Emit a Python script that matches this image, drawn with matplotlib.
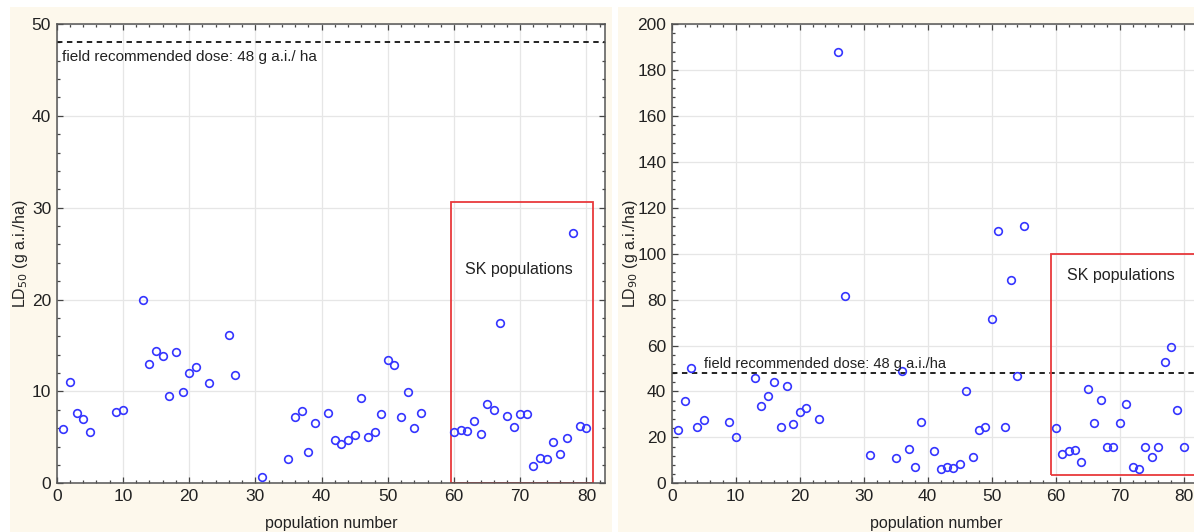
import matplotlib
matplotlib.use("Agg")
import matplotlib.pyplot as plt
from matplotlib.patches import Rectangle
from matplotlib.ticker import MultipleLocator

plt.rcParams['font.family'] = ['Liberation Sans', 'DejaVu Sans']

# LD50 data
ld50_pop = [1, 2, 3, 4, 5, 9, 10, 13, 14, 15, 16, 17, 18, 19, 20, 21, 23, 26, 27,
            31, 35, 36, 37, 38, 39, 41, 42, 43, 44, 45, 46, 47, 48, 49, 50, 51, 52,
            53, 54, 55, 60, 61, 62, 63, 64, 65, 66, 67, 68, 69, 70, 71, 72, 73, 74,
            75, 76, 77, 78, 79, 80]
ld50_val = [5.9, 11.0, 7.6, 7.05, 5.6, 7.8, 8.0, 20.0, 13.0, 14.4, 13.9, 9.5, 14.3,
            9.95, 12.0, 12.7, 10.9, 16.1, 11.8, 0.7, 2.6, 7.2, 7.9, 3.4, 6.6, 7.7,
            4.75, 4.3, 4.75, 5.25, 9.3, 5.0, 5.6, 7.55, 13.45, 12.9, 7.25, 9.95, 6.0,
            7.7, 5.6, 5.85, 5.7, 6.8, 5.35, 8.65, 8.0, 17.4, 7.3, 6.15, 7.5, 7.5,
            1.85, 2.8, 2.6, 4.55, 3.2, 4.95, 27.3, 6.25, 6.0]

# LD90 data
ld90_pop = [1, 2, 3, 4, 5, 9, 10, 13, 14, 15, 16, 17, 18, 19, 20, 21, 23, 26, 27,
            31, 35, 36, 37, 38, 39, 41, 42, 43, 44, 45, 46, 47, 48, 49, 50, 51, 52,
            53, 54, 55, 60, 61, 62, 63, 64, 65, 66, 67, 68, 69, 70, 71, 72, 73, 74,
            75, 76, 77, 78, 79, 80]
ld90_val = [23.4, 36.0, 50.4, 24.7, 27.7, 26.6, 20.0, 45.7, 33.7, 38.2, 44.1, 24.5,
            42.2, 26.0, 31.1, 32.8, 28.2, 188.0, 81.6, 12.2, 11.0, 49.0, 14.9, 7.0,
            26.6, 13.9, 6.4, 7.3, 6.8, 8.6, 40.2, 11.5, 23.4, 24.4, 71.6, 110.0, 24.5,
            88.5, 46.7, 112.2, 24.1, 12.9, 13.9, 14.5, 9.4, 41.1, 26.3, 36.1, 15.7,
            15.7, 26.3, 34.5, 7.3, 6.2, 15.8, 11.6, 16.0, 52.8, 59.4, 31.9, 15.7]

field_dose = 48

W, H = 1194, 532
fig = plt.figure(figsize=(W / 100, H / 100), dpi=100)
fig.patch.set_facecolor('white')

cream = '#fdf8ec'
fig.patches.append(Rectangle((10 / W, 0), (611.7 - 10) / W, (H - 7) / H,
                             transform=fig.transFigure, facecolor=cream,
                             edgecolor='none', zorder=-10))
fig.patches.append(Rectangle((618 / W, 0), (W - 618) / W, (H - 7) / H,
                             transform=fig.transFigure, facecolor=cream,
                             edgecolor='none', zorder=-10))

bottom = (H - 483.3) / H
height = (483.3 - 24) / H
ax1 = fig.add_axes([56.7 / W, bottom, (605 - 56.7) / W, height])
ax2 = fig.add_axes([671.7 / W, bottom, 530 / W, height])

txtc = '#222222'
mcol = '#3535ff'


def style(ax, ymax, ymajor, yminor):
    ax.set_facecolor('white')
    ax.set_xlim(0, 82.8)
    ax.set_ylim(0, ymax)
    ax.xaxis.set_major_locator(MultipleLocator(10))
    ax.xaxis.set_minor_locator(MultipleLocator(2))
    ax.yaxis.set_major_locator(MultipleLocator(ymajor))
    ax.yaxis.set_minor_locator(MultipleLocator(yminor))
    ax.grid(True, which='major', color='#e6e6e6', linewidth=0.9, zorder=0)
    ax.set_axisbelow(True)
    ax.tick_params(which='both', direction='in', top=True, right=True,
                   colors='#444444', labelcolor=txtc, labelsize=12.5, width=0.9)
    ax.tick_params(which='major', length=4, pad=4)
    ax.tick_params(which='minor', length=2.5)
    for s in ax.spines.values():
        s.set_color('#555555')
        s.set_linewidth(1.1)
    ax.set_xlabel('population number', fontsize=11.5, color=txtc, labelpad=9)


# Left panel: LD50
style(ax1, 50, 10, 2)
ax1.plot(ld50_pop, ld50_val, linestyle='none', marker='o', markersize=5.5,
         markerfacecolor='none', markeredgecolor=mcol, markeredgewidth=1.2, zorder=3)
ax1.axhline(field_dose, color='#111111', linestyle=(0, (3, 2.5)), linewidth=1.3)
ax1.text(0.75, 46.4, 'field recommended dose: 48 g a.i./ ha', fontsize=11,
         color=txtc, ha='left', va='center')
ax1.add_patch(Rectangle((59.6, 0), 81 - 59.6, 30.6, facecolor='none',
                        edgecolor='#e8393c', linewidth=1.3, zorder=2))
ax1.text(61.6, 23.3, 'SK populations', fontsize=11.5, color=txtc,
         ha='left', va='center')
ax1.set_ylabel('LD$_{50}$ (g a.i./ha)', fontsize=11.5, color=txtc)
ax1.yaxis.set_label_coords(-0.048, 0.5)

# Right panel: LD90
style(ax2, 200, 20, 4)
ax2.plot(ld90_pop, ld90_val, linestyle='none', marker='o', markersize=5.5,
         markerfacecolor='none', markeredgecolor=mcol, markeredgewidth=1.2, zorder=3)
ax2.axhline(field_dose, color='#111111', linestyle=(0, (3, 2.5)), linewidth=1.3)
ax2.text(5.1, 52.0, 'field recommended dose: 48 g a.i./ha', fontsize=10.5,
         color=txtc, ha='left', va='center')
ax2.add_patch(Rectangle((59.3, 3.5), 90 - 59.3, 100 - 3.5, facecolor='none',
                        edgecolor='#e8393c', linewidth=1.3, zorder=2, clip_on=True))
ax2.text(61.7, 90.3, 'SK populations', fontsize=11.5, color=txtc,
         ha='left', va='center')
ax2.set_ylabel('LD$_{90}$ (g a.i./ha)', fontsize=11.5, color=txtc)
ax2.yaxis.set_label_coords(-0.06, 0.5)

fig.savefig('out.png', dpi=100, facecolor=fig.get_facecolor())
